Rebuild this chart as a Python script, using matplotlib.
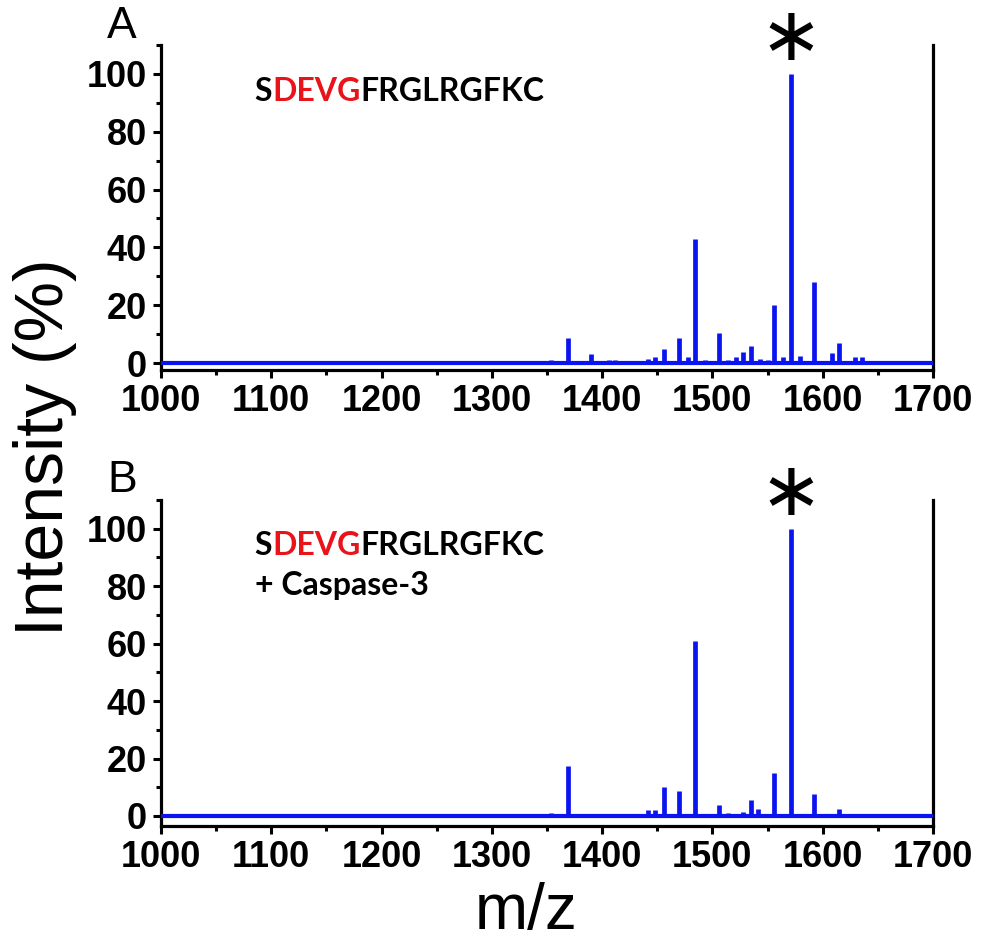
import matplotlib
matplotlib.use("Agg")
import matplotlib.pyplot as plt
from matplotlib.ticker import MultipleLocator

# ---- data ----
mz_a = [1354, 1369, 1390, 1406, 1412, 1442, 1448, 1456, 1470, 1478, 1484,
        1493, 1506, 1514, 1521, 1528, 1535, 1543, 1550, 1556, 1564, 1571,
        1579, 1592, 1608, 1615, 1629, 1636, 1652, 1658, 1674]
int_a = [1.2, 8.5, 3.0, 1.0, 1.2, 1.5, 2.2, 5.0, 8.7, 2.2, 43.0,
         1.0, 10.5, 1.2, 2.0, 3.8, 5.8, 1.5, 1.2, 20.0, 2.2, 100.0,
         2.5, 28.0, 3.5, 7.0, 2.0, 2.2, 0.8, 0.8, 0.4]

mz_b = [1354, 1369, 1390, 1412, 1442, 1448, 1456, 1470, 1478, 1484, 1493,
        1506, 1514, 1528, 1535, 1541, 1556, 1571, 1592, 1615, 1630, 1638]
int_b = [1.2, 17.5, 0.8, 0.4, 2.0, 2.0, 10.0, 8.7, 0.8, 61.0, 0.5,
         3.8, 1.0, 1.5, 5.5, 2.5, 15.0, 100.0, 7.5, 2.3, 0.5, 0.5]

x_range = [1000, 1700]
x_ticks = [1000, 1100, 1200, 1300, 1400, 1500, 1600, 1700]
y_ticks = [0, 20, 40, 60, 80, 100]
panel_labels = ["A", "B"]
star_mz = 1571

BLUE = "#0a14f0"
RED = "#e8141a"

fig = plt.figure(figsize=(9.81, 9.47), dpi=100)
W, H = 981, 947
left, right = 161 / W, 933 / W


def make_ax(top_px, bottom_px):
    return fig.add_axes([left, 1 - bottom_px / H, right - left, (bottom_px - top_px) / H])


axA = make_ax(45, 370)
axB = make_ax(500, 826)
ylims = [(-2.4, 110), (-3.5, 110)]
data = [(mz_a, int_a), (mz_b, int_b)]

for ax, (mz, inten), yl in zip([axA, axB], data, ylims):
    ax.plot(x_range, [0, 0], color=BLUE, lw=3.0, solid_capstyle="butt", zorder=3)
    ax.vlines(mz, 0, inten, color=BLUE, lw=3.4, zorder=3)
    ax.set_xlim(*x_range)
    ax.set_ylim(*yl)
    ax.spines["top"].set_visible(False)
    for s in ["left", "right", "bottom"]:
        ax.spines[s].set_linewidth(2.3)
    ax.set_xticks(x_ticks)
    ax.set_yticks(y_ticks)
    ax.xaxis.set_minor_locator(MultipleLocator(50))
    ax.yaxis.set_minor_locator(MultipleLocator(10))
    ax.tick_params(which="major", direction="out", length=6, width=2.2, pad=4)
    ax.tick_params(which="minor", direction="out", length=3.5, width=2.2)
    ax.tick_params(axis="x", which="both", top=False)
    ax.tick_params(axis="y", which="both", right=False)
    for lab in ax.get_xticklabels() + ax.get_yticklabels():
        lab.set_fontfamily("Liberation Sans")
        lab.set_fontweight("bold")
        lab.set_fontsize(26)
    ax.text(star_mz, 111.8, "\u2217", ha="center", va="center", fontsize=54,
            family="DejaVu Sans", clip_on=False)

# peptide labels
pep_font = dict(family="Lato", weight="bold", size=23)
for ax in [axA, axB]:
    t1 = ax.text(1085, 94, "S", color="black", va="center", ha="left", **pep_font)
    fig.canvas.draw()
    t2 = ax.annotate("DEVG", xycoords=t1, xy=(1, 0.5), va="center", ha="left",
                     color=RED, **pep_font)
    ax.annotate("FRGLRGFKC", xycoords=t2, xy=(1, 0.5), va="center", ha="left",
                color="black", **pep_font)
axB.text(1085, 80.4, "+ Caspase-3", color="black", va="center", ha="left", **pep_font)

fig.text(122 / W, 1 - 27 / H, panel_labels[0], ha="center", va="center",
         fontsize=32, family="Liberation Sans")
fig.text(122 / W, 1 - 481 / H, panel_labels[1], ha="center", va="center",
         fontsize=32, family="Liberation Sans")

fig.text(45 / W, 1 - 447 / H, "Intensity (%)", rotation=90, ha="center", va="center",
         fontsize=49, family="Liberation Sans")
fig.text(526 / W, 1 - 912 / H, "m/z", ha="center", va="center",
         fontsize=46, family="Liberation Sans")

fig.savefig("out.png", dpi=100)
